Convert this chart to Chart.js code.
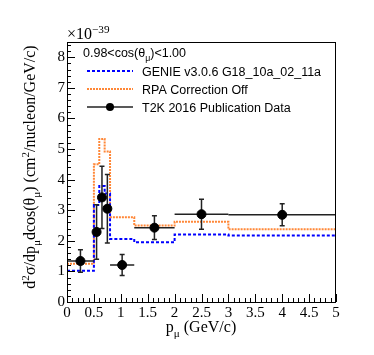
<!DOCTYPE html>
<html>
<head>
<meta charset="utf-8">
<script src="https://cdn.jsdelivr.net/npm/chart.js@4/dist/chart.umd.min.js"></script>
<style>
  body { margin: 0; background: #fff; }
  #wrap { width: 374px; height: 355px; }
</style>
</head>
<body>
<div id="wrap"><canvas id="myChart"></canvas></div>
<script>
// bin edges of the muon momentum (GeV/c)
const binEdges = [0, 0.5, 0.6, 0.7, 0.8, 1.25, 2, 3, 5];
// model predictions per bin (x 1e-39)
const genieVals = [1.02, 3.17, 3.79, 3.55, 2.06, 1.95, 2.21, 2.17];
const rpaOffVals = [1.25, 4.5, 5.33, 4.92, 2.77, 2.5, 2.62, 2.38];
// T2K data points
const dataX = [0.25, 0.55, 0.65, 0.75, 1.025, 1.625, 2.5, 4.0];
const dataY = [1.34, 2.29, 3.42, 3.05, 1.21, 2.43, 2.87, 2.85];
const dataErr = [0.37, 0.89, 1.02, 1.12, 0.34, 0.39, 0.49, 0.36];
// axis ticks
const xTicks = [0, 0.5, 1, 1.5, 2, 2.5, 3, 3.5, 4, 4.5, 5];
const yTicks = [0, 1, 2, 3, 4, 5, 6, 7, 8];

const serif = "'Liberation Serif', 'Times New Roman', serif";
const sans = "'Liberation Sans', Arial, sans-serif";
const orange = "rgb(255,135,55)";

// outline of a histogram: horizontal across each bin, vertical at the edges
function histPoints(vals, dropAtEnd) {
  let pts = [];
  vals.forEach((v, i) => {
    pts.push({ x: binEdges[i], y: v });
    pts.push({ x: binEdges[i + 1], y: v });
  });
  if (dropAtEnd) pts.push({ x: binEdges[binEdges.length - 1], y: 0 });
  return pts;
}

// draw text pieces with sub/superscripts: [text, 'sub'|'sup'|'']
function richText(ctx, parts, x, y, size, font) {
  let cx = x;
  parts.forEach(([t, kind]) => {
    let s = kind ? size * 0.7 : size;
    let dy = kind === "sub" ? size * 0.3 : kind === "sup" ? -size * 0.4 : 0;
    ctx.font = s + "px " + font;
    ctx.fillText(t, cx, y + dy);
    cx += ctx.measureText(t).width;
  });
  return cx - x;
}
function richWidth(ctx, parts, size, font) {
  let w = 0;
  parts.forEach(([t, kind]) => {
    ctx.font = (kind ? size * 0.7 : size) + "px " + font;
    w += ctx.measureText(t).width;
  });
  return w;
}

const rootStyle = {
  id: "rootStyle",
  beforeDatasetDraw(chart, args) {
    if (args.index !== 0) return;
    const ctx = chart.ctx, xs = chart.scales.x, ys = chart.scales.y;
    ctx.save();
    ctx.strokeStyle = "#222";
    ctx.lineWidth = 1.5;
    dataX.forEach((x, i) => {
      let px = xs.getPixelForValue(x);
      let py = ys.getPixelForValue(dataY[i]);
      let x0 = xs.getPixelForValue(binEdges[i]);
      let x1 = xs.getPixelForValue(binEdges[i + 1]);
      let y0 = ys.getPixelForValue(dataY[i] - dataErr[i]);
      let y1 = ys.getPixelForValue(dataY[i] + dataErr[i]);
      ctx.beginPath();
      ctx.moveTo(x0, py); ctx.lineTo(x1, py);
      ctx.moveTo(px, y0); ctx.lineTo(px, y1);
      ctx.moveTo(px - 2.5, y0); ctx.lineTo(px + 2.5, y0);
      ctx.moveTo(px - 2.5, y1); ctx.lineTo(px + 2.5, y1);
      ctx.stroke();
    });
    ctx.restore();
  },
  afterDraw(chart) {
    const ctx = chart.ctx, a = chart.chartArea;
    const xs = chart.scales.x, ys = chart.scales.y;
    ctx.save();
    // frame
    ctx.strokeStyle = "#000";
    ctx.lineWidth = 1;
    ctx.strokeRect(a.left + 0.5, a.top + 0.5, a.right - a.left - 1, a.bottom - a.top);
    // ticks inside the frame
    ctx.beginPath();
    for (let v = 0; v <= 50; v++) {
      let px = Math.round(xs.getPixelForValue(v / 10)) + 0.5;
      let len = v % 5 === 0 ? 8 : 4;
      ctx.moveTo(px, a.bottom); ctx.lineTo(px, a.bottom - len);
    }
    for (let v = 0; v <= 42; v++) {
      let py = Math.round(ys.getPixelForValue(v / 5)) + 0.5;
      let len = v % 5 === 0 ? 8 : 4;
      ctx.moveTo(a.left, py); ctx.lineTo(a.left + len, py);
    }
    ctx.stroke();

    ctx.fillStyle = "#000";
    ctx.textBaseline = "alphabetic";
    ctx.textAlign = "left";
    // exponent
    richText(ctx, [["\u00d710", ""], ["\u221239", "sup"]], a.left, 39, 16, serif);

    // x title
    let xt = [["p", ""], ["\u03bc", "sub"], [" (GeV/c)", ""]];
    let xw = richWidth(ctx, xt, 16, serif);
    richText(ctx, xt, 201 - xw / 2, 332, 16, serif);

    // y title rotated
    let yt = [["d", ""], ["2", "sup"], ["\u03c3/dp", ""], ["\u03bc", "sub"], ["dcos(\u03b8", ""], ["\u03bc", "sub"],
              [") (cm", ""], ["2", "sup"], ["/nucleon/GeV/c)", ""]];
    let yw = richWidth(ctx, yt, 16, serif);
    ctx.save();
    ctx.translate(35, 167);
    ctx.rotate(-Math.PI / 2);
    richText(ctx, yt, -yw / 2, 0, 16, serif);
    ctx.restore();

    // legend
    richText(ctx, [["0.98<cos(\u03b8", ""], ["\u03bc", "sub"], [")<1.00", ""]], 83, 57, 12.5, sans);
    const rows = [
      { label: "GENIE v3.0.6 G18_10a_02_11a", color: "#0000ff", dash: [3, 2], width: 2 },
      { label: "RPA Correction Off", color: orange, dash: [2, 1], width: 2 },
      { label: "T2K 2016 Publication Data", color: "#222", dash: [], width: 1.5, marker: true }
    ];
    rows.forEach((r, i) => {
      let yy = 71 + i * 18;
      ctx.save();
      ctx.strokeStyle = r.color;
      ctx.lineWidth = r.width;
      ctx.setLineDash(r.dash);
      ctx.beginPath();
      ctx.moveTo(87, yy); ctx.lineTo(133, yy);
      ctx.stroke();
      ctx.restore();
      if (r.marker) {
        ctx.beginPath();
        ctx.arc(110, yy, 4, 0, Math.PI * 2);
        ctx.fill();
      }
      ctx.font = "12.5px " + sans;
      ctx.fillText(r.label, 142, yy + 4.5);
    });
    ctx.restore();
  }
};

const ctx = document.getElementById("myChart").getContext("2d");
new Chart(ctx, {
  type: "scatter",
  data: {
    datasets: [
      {
        label: "T2K 2016 Publication Data",
        data: dataX.map((x, i) => ({ x: x, y: dataY[i] })),
        backgroundColor: "#000",
        borderColor: "#000",
        pointRadius: 4.5,
        pointHoverRadius: 4.5,
      },
      {
        type: "line",
        label: "GENIE v3.0.6 G18_10a_02_11a",
        data: histPoints(genieVals, false),
        borderColor: "#0000ff",
        borderWidth: 2,
        borderDash: [3, 2],
        pointRadius: 0,
        tension: 0,
        fill: false,
      },
      {
        type: "line",
        label: "RPA Correction Off",
        data: histPoints(rpaOffVals, true),
        borderColor: orange,
        borderWidth: 2,
        borderDash: [2, 1],
        pointRadius: 0,
        tension: 0,
        fill: false,
      },
    ],
  },
  options: {
    responsive: true,
    maintainAspectRatio: false,
    animation: false,
    events: [],
    layout: { padding: { left: 0, top: 42, right: 38, bottom: 0 } },
    plugins: { legend: { display: false }, tooltip: { enabled: false } },
    scales: {
      x: {
        type: "linear",
        min: 0,
        max: 5,
        afterBuildTicks: (s) => { s.ticks = xTicks.map((v) => ({ value: v })); },
        afterFit: (s) => { s.height = 53; },
        grid: { display: false, drawTicks: false },
        border: { display: false },
        ticks: {
          color: "#000", font: { family: serif, size: 15 }, padding: 2, maxRotation: 0, autoSkip: false,
          callback: (v) => String(v),
        },
      },
      y: {
        type: "linear",
        min: 0,
        max: 8.5,
        afterBuildTicks: (s) => { s.ticks = yTicks.map((v) => ({ value: v })); },
        afterFit: (s) => { s.width = 67; },
        grid: { display: false, drawTicks: false },
        border: { display: false },
        ticks: { color: "#000", font: { family: serif, size: 15 }, padding: 2, callback: (v) => String(v) },
      },
    },
  },
  plugins: [rootStyle],
});
</script>
</body>
</html>
